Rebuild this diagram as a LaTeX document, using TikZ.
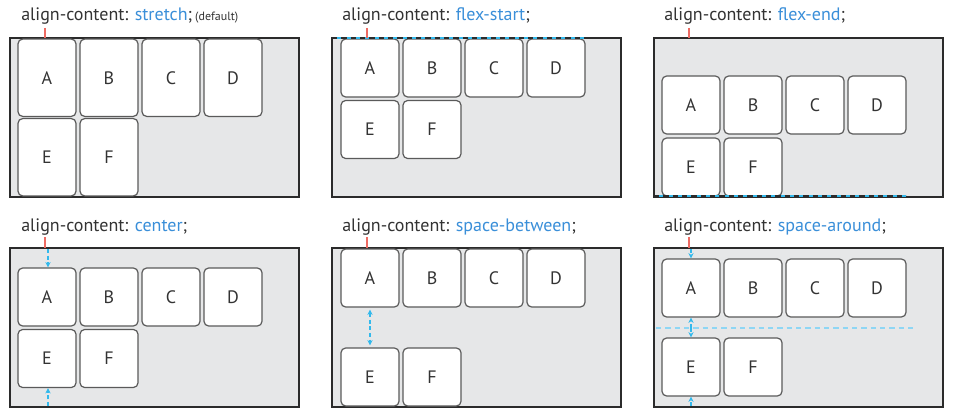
\documentclass[tikz,border=0pt]{standalone}
\usepackage{fontspec}
\setmainfont{PT Sans}
\usetikzlibrary{arrows.meta}
\definecolor{cont}{HTML}{E6E7E8}
\definecolor{frame}{HTML}{2B2B2B}
\definecolor{boxline}{HTML}{5A5A5A}
\definecolor{txt}{HTML}{333333}
\definecolor{val}{HTML}{3A8FD9}
\definecolor{guide}{HTML}{33B9EC}
\definecolor{lightguide}{HTML}{8ED6F4}
\definecolor{tick}{HTML}{EE6B63}
\tikzset{
  container/.style={draw=frame, line width=2pt, fill=cont},
  item/.style={draw=boxline, line width=0.9pt, fill=white, rounded corners=3.5pt,
    minimum width=43.5pt, minimum height=43.5pt, inner sep=0pt, font=\fontsize{13.5}{16}\selectfont, text=txt},
  tallitem/.style={item, minimum height=58pt},
  title/.style={anchor=base west, inner sep=0pt, text=txt, font=\fontsize{13.5}{16}\selectfont},
  redtick/.style={draw=tick, line width=1pt},
  guideline/.style={draw=lightguide, line width=1.5pt, dash pattern=on 4pt off 3pt},
  guidearrow/.style={draw=guide, line width=0.9pt, dash pattern=on 3pt off 2pt, -{Stealth[length=4pt,width=4pt]}},
  guidearrows/.style={draw=guide, line width=0.9pt, dash pattern=on 3pt off 2pt, {Stealth[length=4pt,width=4pt]}-{Stealth[length=4pt,width=4pt]}}
}
\newcommand{\valtext}[1]{\textcolor{val}{#1}}
\begin{document}
\begin{tikzpicture}[x=0.75pt,y=-0.75pt]
\useasboundingbox (0,0) rectangle (962,417);
\fill[white] (0,0) rectangle (962,417);

% ---------- Panel 1: stretch ----------
\node[title] (t1) at (21,21) {align-content: \valtext{stretch};\,{\fontsize{9}{10}\selectfont (default)}};
\draw[container] (10,38) rectangle (299,197);
\coordinate (k1a) at (45,28); \coordinate (k1b) at (45,38);
\draw[redtick] (k1a) -- (k1b);
\foreach \l [count=\i from 0] in {A,B,C,D}
  \node[tallitem] (p1\l) at (47+62*\i, 77.75) {\l};
\foreach \l [count=\i from 0] in {E,F}
  \node[tallitem] (p1\l) at (47+62*\i, 157.25) {\l};

% ---------- Panel 2: flex-start ----------
\node[title] (t2) at (342,21) {align-content: \valtext{flex-start};};
\draw[container] (332,38) rectangle (621,197);
\foreach \l [count=\i from 0] in {A,B,C,D}
  \node[item] (p2\l) at (370+62*\i, 68) {\l};
\foreach \l [count=\i from 0] in {E,F}
  \node[item] (p2\l) at (370+62*\i, 129.5) {\l};
\coordinate (s2a) at (332,38); \coordinate (s2b) at (585,38);
\draw[draw=guide, line width=1.4pt] (s2a) -- (s2b);
\draw[draw=frame, line width=1pt, dash pattern=on 4pt off 3pt] (s2a) -- (s2b);
\coordinate (k2a) at (367,28); \coordinate (k2b) at (367,38);
\draw[redtick] (k2a) -- (k2b);

% ---------- Panel 3: flex-end ----------
\node[title] (t3) at (664,21) {align-content: \valtext{flex-end};};
\draw[container] (654,38) rectangle (943,197);
\foreach \l [count=\i from 0] in {A,B,C,D}
  \node[item] (p3\l) at (691+62*\i, 105) {\l};
\foreach \l [count=\i from 0] in {E,F}
  \node[item] (p3\l) at (691+62*\i, 167) {\l};
\coordinate (s3a) at (654,196); \coordinate (s3b) at (906,196);
\draw[draw=guide, line width=1.4pt] (s3a) -- (s3b);
\draw[draw=frame, line width=1pt, dash pattern=on 4pt off 3pt] (s3a) -- (s3b);
\coordinate (k3a) at (689,28); \coordinate (k3b) at (689,38);
\draw[redtick] (k3a) -- (k3b);

% ---------- Panel 4: center ----------
\node[title] (t4) at (21,231) {align-content: \valtext{center};};
\draw[container] (10,248) rectangle (299,407);
\foreach \l [count=\i from 0] in {A,B,C,D}
  \node[item] (p4\l) at (47+62*\i, 297) {\l};
\foreach \l [count=\i from 0] in {E,F}
  \node[item] (p4\l) at (47+62*\i, 358.5) {\l};
\coordinate (k4a) at (45,237); \coordinate (k4b) at (45,248);
\draw[redtick] (k4a) -- (k4b);
\coordinate (c4top) at (48,249); \coordinate (c4bot) at (48,406);
\draw[guidearrow] (c4top) -- (p4A.north -| c4top);
\draw[guidearrow] (c4bot) -- (p4E.south -| c4bot);

% ---------- Panel 5: space-between ----------
\node[title] (t5) at (342,231) {align-content: \valtext{space-between};};
\draw[container] (332,248) rectangle (621,407);
\foreach \l [count=\i from 0] in {A,B,C,D}
  \node[item] (p5\l) at (370+62*\i, 278) {\l};
\foreach \l [count=\i from 0] in {E,F}
  \node[item] (p5\l) at (370+62*\i, 377) {\l};
\coordinate (k5a) at (367,237); \coordinate (k5b) at (367,248);
\draw[redtick] (k5a) -- (k5b);
\draw[guidearrows] ([yshift=-1.5pt]p5A.south) -- ([yshift=1.5pt]p5E.north);

% ---------- Panel 6: space-around ----------
\node[title] (t6) at (664,231) {align-content: \valtext{space-around};};
\draw[container] (654,248) rectangle (943,407);
\foreach \l [count=\i from 0] in {A,B,C,D}
  \node[item] (p6\l) at (691+62*\i, 288) {\l};
\foreach \l [count=\i from 0] in {E,F}
  \node[item] (p6\l) at (691+62*\i, 367) {\l};
\coordinate (m6a) at (656,327.5); \coordinate (m6b) at (915,327.5);
\draw[guideline] (m6a) -- (m6b);
\coordinate (k6a) at (689,237); \coordinate (k6b) at (689,248);
\draw[redtick] (k6a) -- (k6b);
\coordinate (c6top) at (691,249); \coordinate (c6mid) at (691,327.5); \coordinate (c6bot) at (691,406);
\draw[guidearrow] (c6top) -- (p6A.north);
\draw[guidearrow] (c6mid) -- (p6A.south);
\draw[guidearrow] (c6mid) -- (p6E.north);
\draw[guidearrow] (c6bot) -- (p6E.south);
\end{tikzpicture}
\end{document}
